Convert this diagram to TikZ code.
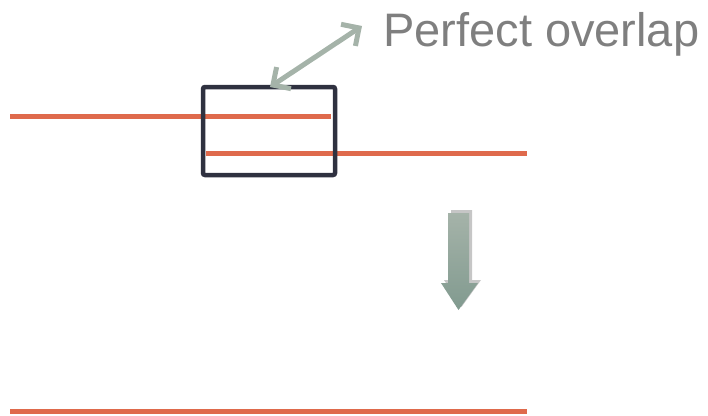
\documentclass[tikz,border=0pt]{standalone}
\usepackage{fontspec}
\setmainfont{Liberation Sans}
\usetikzlibrary{arrows.meta,shadows}

\definecolor{strand}{HTML}{DF6A4C}
\definecolor{frame}{HTML}{2F3140}
\definecolor{sage}{HTML}{A5B3A9}
\definecolor{sagedark}{HTML}{819A8F}
\definecolor{label}{HTML}{7F7F7F}

\tikzset{
  strandline/.style={strand, line width=5pt},
  framebox/.style={frame, line width=4.5pt, rounded corners=2pt},
  pointer/.style={sage, line width=5pt, {Straight Barb[length=13pt,width=26pt]}-{Straight Barb[length=13pt,width=26pt]}},
}

\begin{document}
\begin{tikzpicture}[x=1pt, y=-1pt]
    \useasboundingbox (0,0) rectangle (708,415);

    % 定义关键点
    \coordinate (L1a) at (10,116);
    \coordinate (L1b) at (331,116);
    \coordinate (L2a) at (206,153);
    \coordinate (L2b) at (527,153);
    \coordinate (L3a) at (10,411);
    \coordinate (L3b) at (527,411);

    % 两条错开的链（上）与合并后的链（下）
    \draw[strandline] (L1a) -- (L1b);
    \draw[strandline] (L2a) -- (L2b);
    \draw[strandline] (L3a) -- (L3b);

    % 重叠区域的框
    \draw[framebox] (203,87) rectangle (335,175);
    \coordinate (boxtop) at (270,87);

    % 标注文字与双向箭头
    \node[anchor=base west, inner sep=0pt, text=label, font=\fontsize{47}{50}\selectfont] (lbl) at (383,46) {Perfect overlap};
    \coordinate (tip) at (362,26);
    \draw[pointer] (boxtop) -- (tip);

    % 向下的箭头（带阴影）
    \path[top color=sage, bottom color=sagedark,
          drop shadow={shadow xshift=3pt, shadow yshift=3pt, opacity=0.45}]
        (448,213) -- (469,213) -- (469,283) -- (478,283)
        -- (458.5,310) -- (441,283) -- (448,283) -- cycle;
\end{tikzpicture}
\end{document}
